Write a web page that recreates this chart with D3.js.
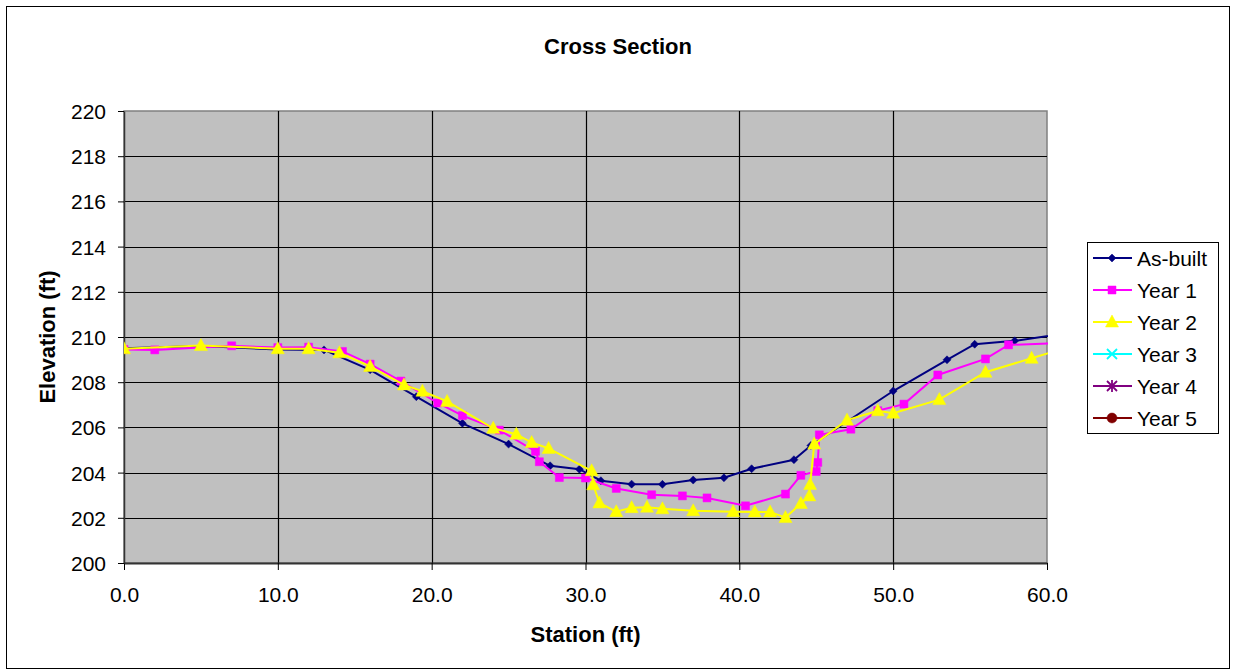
<!DOCTYPE html>
<html>
<head>
<meta charset="utf-8">
<script src="https://cdn.jsdelivr.net/npm/d3@7"></script>
<style>
  body { margin: 0; background: #fff; }
  svg text { font-family: "Liberation Sans", Arial, sans-serif; fill: #000; }
</style>
</head>
<body>
<div id="chart"></div>
<script>
// data
let asBuiltStation = [0, 5, 10, 13, 16, 19, 22, 25, 27.7, 29.6, 31, 33, 35, 37, 39, 40.8, 43.55, 44.65, 50, 53.5, 55.3, 57.9, 62]
let asBuiltElev = [209.5, 209.6, 209.45, 209.43, 208.55, 207.36, 206.18, 205.26, 204.3, 204.15, 203.64, 203.49, 203.48, 203.67, 203.77, 204.17, 204.57, 205.2, 207.61, 208.99, 209.68, 209.83, 210.24]

let year1Station = [0, 2, 7, 10, 12, 14.2, 16, 18, 20.4, 22, 24.4, 26.75, 27, 28.3, 30, 32, 34.3, 36.3, 37.9, 40.4, 43, 44, 45, 45.1, 45.2, 47.25, 49, 50.7, 52.9, 56, 57.5, 62]
let year1Elev = [209.45, 209.43, 209.61, 209.53, 209.55, 209.36, 208.8, 208.05, 207.08, 206.52, 205.88, 204.94, 204.48, 203.78, 203.76, 203.3, 203.02, 202.97, 202.88, 202.53, 203.05, 203.88, 204.05, 204.45, 205.67, 205.92, 206.74, 207.03, 208.32, 209.03, 209.65, 209.75]

let year2Station = [0, 5, 10, 12, 14, 16, 18.2, 19.4, 21, 24, 25.5, 26.5, 27.6, 30.4, 30.5, 30.9, 32, 33, 34, 35, 37, 39.6, 41, 42, 43, 44, 44.55, 44.6, 44.87, 47, 49, 50, 53, 56, 59, 62]
let year2Elev = [209.48, 209.62, 209.48, 209.48, 209.3, 208.7, 207.88, 207.6, 207.15, 205.96, 205.7, 205.33, 205.07, 204.08, 203.46, 202.66, 202.27, 202.45, 202.47, 202.4, 202.31, 202.27, 202.26, 202.26, 202.01, 202.63, 202.97, 203.47, 205.26, 206.32, 206.74, 206.63, 207.23, 208.44, 209.06, 209.68]

let seriesNames = ['As-built', 'Year 1', 'Year 2', 'Year 3', 'Year 4', 'Year 5']
let seriesColors = ['#000080', '#ff00ff', '#ffff00', '#00ffff', '#800080', '#800000']
let seriesMarkers = ['diamond', 'square', 'triangle', 'x', 'star', 'circle']

let xTicks = [0, 10, 20, 30, 40, 50, 60]
let yTicks = [200, 202, 204, 206, 208, 210, 212, 214, 216, 218, 220]

let W = 1233, H = 671
let plot = { left: 124, top: 111, right: 1047, bottom: 563 }

let series = [
  { station: asBuiltStation, elev: asBuiltElev },
  { station: year1Station, elev: year1Elev },
  { station: year2Station, elev: year2Elev }
].map((s, i) => ({
  name: seriesNames[i], color: seriesColors[i], marker: seriesMarkers[i],
  points: s.station.map((x, j) => ({ x, y: s.elev[j] }))
}))

let x = d3.scaleLinear().domain([0, 60]).range([plot.left, plot.right])
let y = d3.scaleLinear().domain([200, 220]).range([plot.bottom, plot.top])

let svg = d3.select('#chart').append('svg')
  .attr('width', W).attr('height', H)

// outer frame
svg.append('rect')
  .attr('x', 6.5).attr('y', 6.5)
  .attr('width', 1223).attr('height', 662)
  .attr('fill', '#fff').attr('stroke', '#000').attr('stroke-width', 1)

svg.append('text')
  .attr('x', 618).attr('y', 54)
  .attr('text-anchor', 'middle')
  .attr('font-size', 22).attr('font-weight', 'bold')
  .text('Cross Section')

// plot area
svg.append('rect')
  .attr('x', plot.left).attr('y', plot.top)
  .attr('width', plot.right - plot.left).attr('height', plot.bottom - plot.top)
  .attr('fill', '#c0c0c0').attr('stroke', '#808080').attr('stroke-width', 1.5)

svg.append('g').selectAll('line')
  .data(yTicks.slice(1, -1))
  .enter().append('line')
  .attr('x1', plot.left).attr('x2', plot.right)
  .attr('y1', d => Math.round(y(d)) + 0.5).attr('y2', d => Math.round(y(d)) + 0.5)
  .attr('stroke', '#000').attr('stroke-width', 1.2)

svg.append('g').selectAll('line')
  .data(xTicks.slice(1, -1))
  .enter().append('line')
  .attr('y1', plot.top).attr('y2', plot.bottom)
  .attr('x1', d => Math.round(x(d)) + 0.5).attr('x2', d => Math.round(x(d)) + 0.5)
  .attr('stroke', '#000').attr('stroke-width', 1.2)

// axes
let xAxis = d3.axisBottom(x).tickValues(xTicks).tickFormat(d3.format('.1f')).tickSize(7).tickSizeOuter(0)
let yAxis = d3.axisLeft(y).tickValues(yTicks).tickFormat(d3.format('d')).tickSize(6).tickSizeOuter(0)

let gx = svg.append('g')
  .attr('transform', `translate(0,${plot.bottom})`)
  .call(xAxis)
gx.select('.domain').attr('stroke', '#333').attr('stroke-width', 2)
gx.selectAll('.tick line').attr('stroke', '#000')
gx.selectAll('.tick text')
  .attr('y', 39).attr('dy', 0)
  .attr('font-size', 21).attr('font-family', '"Liberation Sans", Arial, sans-serif')

let gy = svg.append('g')
  .attr('transform', `translate(${plot.left},0)`)
  .call(yAxis)
gy.select('.domain').attr('stroke', '#333').attr('stroke-width', 1.5)
gy.selectAll('.tick line').attr('stroke', '#000')
gy.selectAll('.tick text')
  .attr('x', -18).attr('dy', '0.36em')
  .attr('font-size', 21).attr('font-family', '"Liberation Sans", Arial, sans-serif')

svg.append('text')
  .attr('x', (plot.left + plot.right) / 2).attr('y', 642)
  .attr('text-anchor', 'middle')
  .attr('font-size', 22).attr('font-weight', 'bold')
  .text('Station (ft)')

svg.append('text')
  .attr('transform', `translate(55,${(plot.top + plot.bottom) / 2}) rotate(-90)`)
  .attr('text-anchor', 'middle')
  .attr('font-size', 22).attr('font-weight', 'bold')
  .text('Elevation (ft)')

// markers
let markerPath = (type) => {
  switch (type) {
    case 'diamond': return 'M0,-4L4,0L0,4L-4,0Z'
    case 'square': return 'M-4,-4H4V4H-4Z'
    case 'triangle': return 'M0,-7L6.5,5H-6.5Z'
    case 'x': return 'M-5,-5L5,5M-5,5L5,-5'
    case 'star': return 'M-5,-5L5,5M-5,5L5,-5M0,-6V6'
    case 'circle': return 'M-5,0A5,5 0 1,0 5,0A5,5 0 1,0 -5,0Z'
  }
}
let drawMarker = (sel, type, color) => {
  let filled = !(type === 'x' || type === 'star')
  sel.append('path')
    .attr('d', markerPath(type))
    .attr('fill', filled ? color : 'none')
    .attr('stroke', color)
    .attr('stroke-width', filled ? 0.5 : 1.8)
}

svg.append('clipPath').attr('id', 'clip')
  .append('rect')
  .attr('x', plot.left).attr('y', plot.top - 10)
  .attr('width', plot.right - plot.left + 1).attr('height', plot.bottom - plot.top + 20)

let line = d3.line().x(d => x(d.x)).y(d => y(d.y))

let gSeries = svg.append('g').attr('clip-path', 'url(#clip)')
series.forEach(s => {
  let g = gSeries.append('g')
  g.append('path')
    .attr('d', line(s.points))
    .attr('fill', 'none')
    .attr('stroke', s.color)
    .attr('stroke-width', 2)
  g.selectAll('g.pt')
    .data(s.points.filter(p => p.x <= 60))
    .enter().append('g')
    .attr('class', 'pt')
    .attr('transform', d => `translate(${x(d.x)},${y(d.y)})`)
    .each(function () { drawMarker(d3.select(this), s.marker, s.color) })
})

// legend
let legend = svg.append('g')
legend.append('rect')
  .attr('x', 1087.5).attr('y', 242.5)
  .attr('width', 131).attr('height', 191)
  .attr('fill', '#fff').attr('stroke', '#000').attr('stroke-width', 1)

seriesNames.forEach((name, i) => {
  let cy = 258 + i * 32
  let row = legend.append('g')
  row.append('line')
    .attr('x1', 1093).attr('x2', 1132)
    .attr('y1', cy).attr('y2', cy)
    .attr('stroke', seriesColors[i]).attr('stroke-width', 2)
  drawMarker(row.append('g').attr('transform', `translate(1112,${cy})`), seriesMarkers[i], seriesColors[i])
  row.append('text')
    .attr('x', 1137).attr('y', cy + 7.5)
    .attr('font-size', 21)
    .text(name)
})
</script>
</body>
</html>
